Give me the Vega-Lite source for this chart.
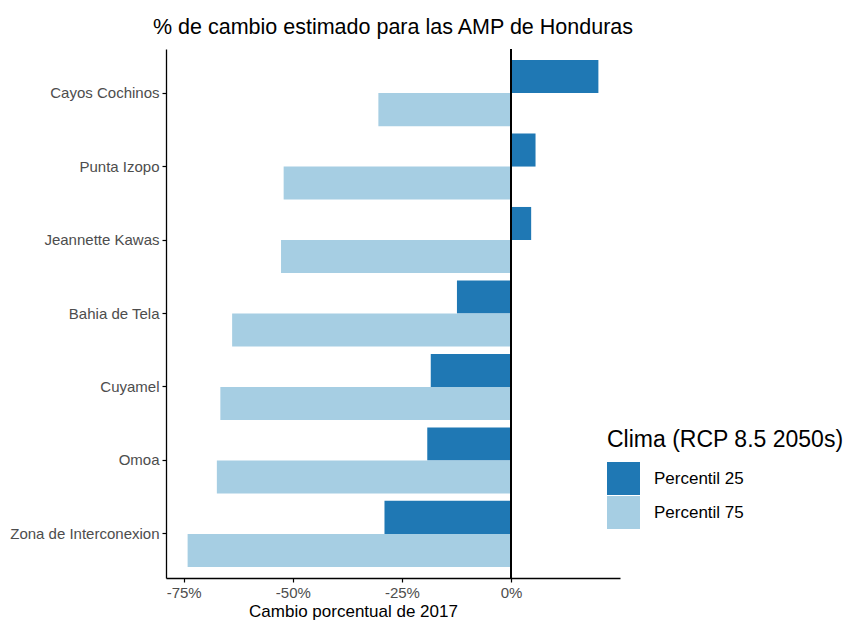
{
  "$schema": "https://vega.github.io/schema/vega-lite/v6.json",
  "width": 454,
  "height": 529,
  "autosize": {"type": "none"},
  "padding": {"left": 166, "top": 49, "right": 234, "bottom": 43},
  "background": "white",
  "config": {
    "font": "Liberation Sans",
    "view": {"stroke": null}
  },
  "title": {
    "text": "% de cambio estimado para las AMP de Honduras",
    "fontSize": 21.5,
    "fontWeight": "normal",
    "color": "black",
    "anchor": "middle",
    "offset": 10
  },
  "data": {
    "values": [
      {"amp": "Cayos Cochinos", "clima": "Percentil 25", "cambio": 20.0},
      {"amp": "Cayos Cochinos", "clima": "Percentil 75", "cambio": -30.4},
      {"amp": "Punta Izopo", "clima": "Percentil 25", "cambio": 5.6},
      {"amp": "Punta Izopo", "clima": "Percentil 75", "cambio": -52.1},
      {"amp": "Jeannette Kawas", "clima": "Percentil 25", "cambio": 4.6},
      {"amp": "Jeannette Kawas", "clima": "Percentil 75", "cambio": -52.7},
      {"amp": "Bahia de Tela", "clima": "Percentil 25", "cambio": -12.4},
      {"amp": "Bahia de Tela", "clima": "Percentil 75", "cambio": -63.9},
      {"amp": "Cuyamel", "clima": "Percentil 25", "cambio": -18.4},
      {"amp": "Cuyamel", "clima": "Percentil 75", "cambio": -66.6},
      {"amp": "Omoa", "clima": "Percentil 25", "cambio": -19.2},
      {"amp": "Omoa", "clima": "Percentil 75", "cambio": -67.4},
      {"amp": "Zona de Interconexion", "clima": "Percentil 25", "cambio": -29.0},
      {"amp": "Zona de Interconexion", "clima": "Percentil 75", "cambio": -74.1}
    ]
  },
  "layer": [
    {
      "mark": {"type": "bar", "orient": "horizontal"},
      "encoding": {
        "y": {
          "field": "amp",
          "type": "nominal",
          "sort": ["Cayos Cochinos", "Punta Izopo", "Jeannette Kawas", "Bahia de Tela", "Cuyamel", "Omoa", "Zona de Interconexion"],
          "scale": {"paddingInner": 0.1, "paddingOuter": 0.15},
          "axis": {
            "title": null,
            "labelFontSize": 15,
            "labelColor": "#4d4d4d",
            "labelPadding": 3,
            "tickSize": 4,
            "tickColor": "black",
            "tickWidth": 1.2,
            "domainColor": "black",
            "domainWidth": 1.3
          }
        },
        "yOffset": {
          "field": "clima",
          "type": "nominal",
          "sort": ["Percentil 25", "Percentil 75"],
          "scale": {"paddingInner": 0, "paddingOuter": 0}
        },
        "x": {
          "field": "cambio",
          "type": "quantitative",
          "scale": {"domain": [-79.05, 24.95], "nice": false, "zero": false},
          "axis": {
            "values": [-75, -50, -25, 0],
            "labelExpr": "datum.value + '%'",
            "labelFontSize": 15,
            "labelColor": "#4d4d4d",
            "labelPadding": 3,
            "tickSize": 4,
            "tickColor": "black",
            "tickWidth": 1.2,
            "domainColor": "black",
            "domainWidth": 1.3,
            "grid": false,
            "title": "Cambio porcentual de 2017",
            "titleFontSize": 17,
            "titleFontWeight": "normal",
            "titleColor": "black",
            "titleX": 187,
            "titleAlign": "center",
            "titlePadding": 3
          }
        },
        "color": {
          "field": "clima",
          "type": "nominal",
          "sort": ["Percentil 25", "Percentil 75"],
          "scale": {"domain": ["Percentil 25", "Percentil 75"], "range": ["#1f78b4", "#a6cee3"]},
          "legend": {
            "title": "Clima  (RCP 8.5 2050s)",
            "orient": "none",
            "legendX": 441,
            "legendY": 380,
            "titleFontSize": 23,
            "titleFontWeight": "normal",
            "titleColor": "black",
            "titleLimit": 400,
            "titlePadding": 10,
            "labelFontSize": 17,
            "labelColor": "black",
            "labelOffset": 14,
            "labelLimit": 300,
            "symbolType": "square",
            "symbolSize": 1089,
            "symbolStrokeWidth": 0,
            "symbolOpacity": 1,
            "rowPadding": 1
          }
        }
      }
    },
    {
      "mark": {"type": "rule", "color": "black", "strokeWidth": 1.3},
      "encoding": {"x": {"datum": 0}}
    }
  ]
}
